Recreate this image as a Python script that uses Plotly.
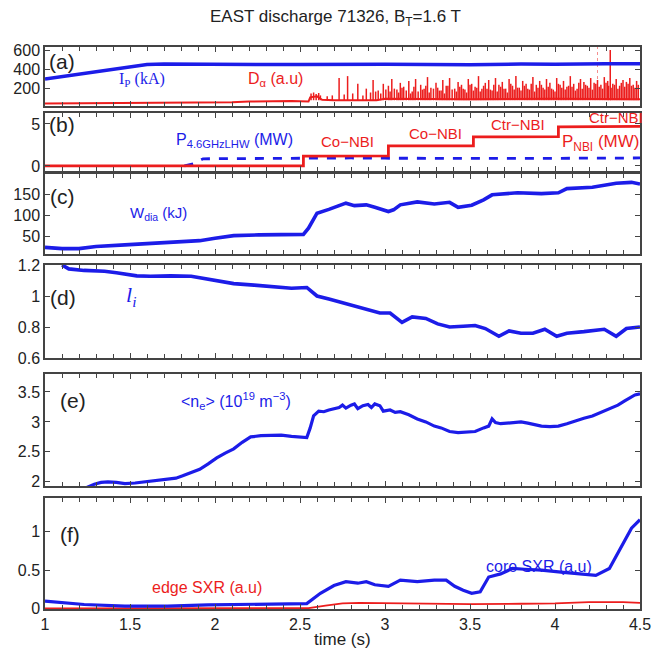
import plotly.graph_objects as go

# ---------------- data ----------------
IP_T = [1.0, 1.2, 1.4, 1.6, 1.7, 2.0, 2.5, 3.0, 3.5, 3.8, 4.0, 4.3, 4.5]
IP_V = [300, 350, 405, 450, 455, 452, 450, 452, 448, 455, 452, 458, 458]

DA_BASE_T = [1.0, 1.3, 1.6, 1.9, 2.1, 2.2, 2.3, 2.45, 2.55, 2.56, 2.6, 2.63, 2.7, 2.8, 2.95, 3.0, 3.5, 4.0, 4.5]
DA_BASE_V = [45, 48, 52, 54, 58, 66, 70, 72, 66, 110, 120, 85, 80, 78, 80, 95, 90, 95, 90]
DA_SPIKE_T = [2.565, 2.58, 2.595, 2.61, 2.62, 2.73, 2.78, 2.84, 2.89, 2.93,
              2.96, 2.99, 3.02, 3.04, 3.07, 3.09, 3.11, 3.14, 3.16, 3.18,
              3.21, 3.23, 3.25, 3.27, 3.30, 3.32, 3.34, 3.36, 3.38, 3.41,
              3.43, 3.45, 3.47, 3.49, 3.51, 3.53, 3.55, 3.57, 3.59, 3.61,
              3.63, 3.65, 3.67, 3.69, 3.71, 3.73, 3.75, 3.77, 3.79, 3.81,
              3.83, 3.85, 3.87, 3.89, 3.91, 3.93, 3.95, 3.97, 3.99, 4.01,
              4.03, 4.05, 4.07, 4.09, 4.11, 4.13, 4.15, 4.17, 4.19, 4.21,
              4.23, 4.25, 4.27, 4.29, 4.31, 4.325, 4.34, 4.36, 4.38, 4.40,
              4.42, 4.44, 4.46, 4.48]
DA_SPIKE_V = [150, 160, 145, 155, 130, 310, 330, 250, 200, 290,
              180, 250, 230, 300, 190, 260, 220, 280, 170, 300,
              240, 200, 320, 210, 260, 180, 290, 230, 310, 200,
              270, 240, 190, 300, 250, 220, 330, 200, 260, 290,
              180, 310, 240, 270, 200, 300, 230, 330, 210, 280,
              250, 190, 320, 240, 280, 210, 300, 260, 190, 310,
              240, 280, 220, 330, 250, 200, 300, 270, 230, 310,
              260, 290, 240, 320, 280, 600, 250, 300, 230, 290,
              270, 310, 240, 280]
DA_SMALL_T = [2.66, 2.69, 2.76, 2.81, 2.87, 2.915, 2.945, 2.975, 3.005, 3.03,
              3.055, 3.08, 3.10, 3.125, 3.15, 3.17, 3.195, 3.22, 3.24, 3.26,
              3.285, 3.31, 3.33, 3.35, 3.37, 3.395, 3.42, 3.44, 3.46, 3.48,
              3.50, 3.52, 3.54, 3.56, 3.58, 3.60, 3.62, 3.64, 3.66, 3.68,
              3.70, 3.72, 3.74, 3.76, 3.78, 3.80, 3.82, 3.84, 3.86, 3.88,
              3.90, 3.92, 3.94, 3.96, 3.98, 4.00, 4.02, 4.04, 4.06, 4.08,
              4.10, 4.12, 4.14, 4.16, 4.18, 4.20, 4.22, 4.24, 4.26, 4.28,
              4.30, 4.315, 4.33, 4.35, 4.37, 4.39, 4.41, 4.43, 4.45, 4.47,
              4.49]
DA_SMALL_V = [120, 130, 140, 150, 130, 160, 170, 150, 190, 170,
              200, 160, 210, 180, 150, 220, 170, 190, 230, 160,
              200, 210, 180, 150, 230, 190, 170, 220, 200, 160,
              240, 180, 210, 170, 230, 200, 190, 240, 170, 220,
              200, 160, 250, 190, 210, 180, 230, 200, 250, 170,
              210, 240, 190, 220, 200, 170, 250, 210, 190, 230,
              220, 180, 260, 200, 240, 210, 190, 250, 220, 200,
              260, 230, 210, 240, 200, 260, 220, 250, 230, 210,
              240]
DA_FLOOR = 80
DA_DASH_T = [4.25, 4.25]
DA_DASH_V = [300, 640]

NBI_T = [1.0, 2.52, 2.52, 3.02, 3.02, 3.52, 3.52, 4.02, 4.02, 4.5]
NBI_V = [0.0, 0.0, 1.18, 1.2, 2.38, 2.4, 3.45, 3.5, 4.65, 4.7]
LHW_T = [1.82, 1.88, 1.93, 2.2, 2.5, 2.8, 3.0, 3.3, 3.6, 3.9, 4.2, 4.5]
LHW_V = [0.0, 0.3, 0.85, 0.9, 0.92, 0.95, 0.92, 0.88, 0.9, 0.9, 0.92, 0.95]

W_T = [1.0, 1.1, 1.2, 1.3, 1.47, 1.67, 1.84, 1.91, 2.0, 2.11, 2.26, 2.52, 2.55, 2.6,
       2.67, 2.77, 2.82, 2.89, 2.94, 3.02, 3.05, 3.09, 3.19, 3.29, 3.38, 3.43, 3.51,
       3.58, 3.63, 3.78, 3.92, 4.02, 4.07, 4.22, 4.36, 4.45, 4.5]
W_V = [24, 21, 21, 26, 30, 35, 38, 40, 46, 52, 54, 55, 70, 106,
       115, 130, 124, 126, 120, 110, 114, 126, 133, 128, 132, 120, 125,
       138, 150, 155, 153, 155, 165, 168, 178, 180, 176]

LI_T = [1.1, 1.14, 1.23, 1.35, 1.42, 1.54, 1.62, 1.74, 1.86, 1.96, 2.11, 2.23, 2.35,
        2.45, 2.54, 2.6, 2.67, 2.77, 2.89, 2.97, 3.03, 3.1, 3.16, 3.24, 3.31, 3.38,
        3.46, 3.53, 3.59, 3.67, 3.73, 3.8, 3.87, 3.94, 4.01, 4.07, 4.17, 4.29, 4.36,
        4.42, 4.5]
LI_V = [1.2, 1.175, 1.165, 1.16, 1.15, 1.13, 1.127, 1.13, 1.127, 1.11, 1.08, 1.07, 1.06,
        1.05, 1.055, 1.0, 0.98, 0.95, 0.92, 0.89, 0.89, 0.83, 0.865, 0.855, 0.82, 0.80,
        0.805, 0.81, 0.79, 0.74, 0.775, 0.76, 0.76, 0.785, 0.74, 0.76, 0.77, 0.785, 0.74,
        0.79, 0.80]

NE_T = [1.0, 1.2, 1.29, 1.33, 1.37, 1.42, 1.47, 1.53, 1.59, 1.66, 1.72, 1.77, 1.81, 1.86,
        1.91, 1.96, 2.01, 2.06, 2.11, 2.16, 2.21, 2.27, 2.33, 2.39, 2.45, 2.5, 2.54, 2.56,
        2.58, 2.61, 2.64, 2.67, 2.7, 2.73, 2.75, 2.77, 2.8, 2.82, 2.84, 2.87, 2.9, 2.92,
        2.94, 2.97, 2.99, 3.03, 3.06, 3.09, 3.14, 3.19, 3.24, 3.29, 3.33, 3.38, 3.43,
        3.48, 3.53, 3.58, 3.61, 3.63, 3.65, 3.68, 3.72, 3.76, 3.8, 3.84, 3.88, 3.92,
        3.97, 4.02, 4.07, 4.12, 4.17, 4.22, 4.27, 4.32, 4.37, 4.41, 4.44, 4.47, 4.5]
NE_V = [1.6, 1.85, 1.96, 1.99, 2.0, 1.99, 1.97, 1.98, 2.0, 2.01, 2.03, 2.06, 2.1, 2.15,
        2.21, 2.3, 2.4, 2.48, 2.55, 2.66, 2.75, 2.77, 2.77, 2.78, 2.76, 2.75, 2.74, 2.9,
        3.1, 3.18, 3.17, 3.2, 3.22, 3.24, 3.28, 3.23, 3.28, 3.3, 3.22, 3.27, 3.29, 3.24,
        3.3, 3.27, 3.18, 3.2, 3.16, 3.17, 3.12, 3.05, 3.0, 2.93, 2.9, 2.84, 2.82,
        2.83, 2.84, 2.9, 2.93, 3.05, 2.99, 2.97, 2.98, 2.99, 3.0, 2.98, 2.96, 2.93,
        2.92, 2.93, 2.97, 3.02, 3.06, 3.1, 3.16, 3.22, 3.28, 3.35, 3.4, 3.45, 3.47]

CORE_T = [1.0, 1.1, 1.23, 1.47, 1.72, 1.96, 2.21, 2.45, 2.54, 2.62, 2.7, 2.77, 2.84,
          2.89, 2.94, 3.02, 3.09, 3.19, 3.29, 3.36, 3.41, 3.46, 3.51, 3.56, 3.61, 3.68,
          3.75, 3.82, 3.92, 4.05, 4.17, 4.24, 4.32, 4.39, 4.45, 4.5]
CORE_V = [0.1, 0.076, 0.055, 0.034, 0.034, 0.05, 0.055, 0.055, 0.067, 0.2, 0.3, 0.35, 0.33,
          0.35, 0.31, 0.29, 0.37, 0.35, 0.37, 0.37, 0.29, 0.24, 0.2, 0.22, 0.41, 0.45,
          0.52, 0.51, 0.5, 0.47, 0.45, 0.43, 0.52, 0.79, 1.04, 1.15]

EDGE_T = [1.0, 2.0, 2.55, 2.65, 2.75, 2.85, 3.0, 3.2, 3.5, 3.8, 4.0, 4.2, 4.4, 4.5]
EDGE_V = [0.005, 0.005, 0.008, 0.04, 0.07, 0.075, 0.07, 0.065, 0.06, 0.065, 0.07, 0.085, 0.085, 0.075]

X_TICKS = [1, 1.5, 2, 2.5, 3, 3.5, 4, 4.5]
Y_TICKS = [[200, 400, 600], [0, 5], [50, 100, 150], [0.6, 0.8, 1, 1.2],
           [2, 2.5, 3, 3.5], [0, 0.5, 1]]
Y_RANGES = [[20, 632], [-0.6, 6.3], [8, 200], [0.6, 1.2], [1.93, 3.8], [-0.003, 1.43]]

# ---------------- layout helpers ----------------
W, H = 654, 655
ML, MR = 45, 14
PANELS = [(47, 106), (113, 171), (174, 254), (265, 358), (374, 486), (498, 609)]
BLUE = "#1c1ce8"
RED = "#ec1d1d"
FRAME = "#444444"
FONT = "Liberation Sans"


def pxx(x):
    return (x - ML) / (W - ML - MR)


def pyy(y):
    return 1 - y / H


fig = go.Figure()


def add(row, x, y, color, width, dash="solid"):
    fig.add_trace(go.Scatter(
        x=x, y=y, mode="lines",
        line=dict(color=color, width=width, dash=dash),
        xaxis="x" if row == 1 else f"x{row}",
        yaxis="y" if row == 1 else f"y{row}",
        showlegend=False, hoverinfo="skip"))


# (a)
spx, spy = [], []
for t, v in list(zip(DA_SPIKE_T, DA_SPIKE_V)) + list(zip(DA_SMALL_T, DA_SMALL_V)):
    spx += [t, t, None]
    spy += [DA_FLOOR, v, None]
add(1, spx, spy, RED, 1.5)
add(1, DA_BASE_T, DA_BASE_V, RED, 2)
add(1, DA_DASH_T, DA_DASH_V, "rgba(236,29,29,0.5)", 1, "dot")
add(1, IP_T, IP_V, BLUE, 3.5)
# (b)
add(2, LHW_T, LHW_V, BLUE, 2.8, "dash")
add(2, NBI_T, NBI_V, RED, 2.8)
# (c)
add(3, W_T, W_V, BLUE, 3.6)
# (d)
add(4, LI_T, LI_V, BLUE, 3.6)
# (e)
add(5, NE_T, NE_V, BLUE, 3.2)
# (f)
add(6, EDGE_T, EDGE_V, RED, 1.8)
add(6, CORE_T, CORE_V, BLUE, 3.2)

layout = dict(
    width=W, height=H,
    margin=dict(l=ML, r=MR, t=0, b=0, pad=0),
    paper_bgcolor="white", plot_bgcolor="white",
    font=dict(family=FONT, color="#222", size=14),
)
for i, (top, bot) in enumerate(PANELS, 1):
    xs = "" if i == 1 else str(i)
    layout[f"xaxis{xs}"] = dict(
        domain=[0, 1], range=[1, 4.5], anchor=f"y{xs}",
        matches=None if i == 1 else "x",
        showline=True, mirror="allticks", linecolor=FRAME, linewidth=1.5,
        ticks="inside", ticklen=5, tickwidth=1, tickcolor=FRAME,
        tickvals=X_TICKS, ticktext=[str(v) for v in X_TICKS],
        minor=dict(dtick=0.1, tick0=1, ticks="inside", ticklen=4, tickcolor=FRAME),
        showgrid=False, zeroline=False, showticklabels=(i == 6),
        tickfont=dict(size=16, family=FONT, color="#222"), automargin=False)
    layout[f"yaxis{xs}"] = dict(
        domain=[pyy(bot), pyy(top)], range=Y_RANGES[i - 1], anchor=f"x{xs}",
        showline=True, mirror="allticks", linecolor=FRAME, linewidth=1.5,
        ticks="inside", ticklen=5, tickwidth=1, tickcolor=FRAME,
        tickvals=Y_TICKS[i - 1], ticktext=[str(v) for v in Y_TICKS[i - 1]],
        showgrid=False, zeroline=False,
        tickfont=dict(size=16, family=FONT, color="#222"), automargin=False)

fig.update_layout(**layout)

annos = [
    ("EAST discharge 71326, B<sub>T</sub>=1.6 T", 335, 18, 17, "#222", FONT),
    ("(a)", 62, 62, 21, "#222", FONT),
    ("I<sub>P</sub> (kA)", 142, 79, 16, BLUE, "Liberation Serif"),
    ("D<sub>α</sub> (a.u)", 275, 80, 16, RED, FONT),
    ("(b)", 62, 124, 21, "#222", FONT),
    ("P<sub>4.6GHzLHW</sub> (MW)", 234, 140, 16, BLUE, FONT),
    ("Co−NBI", 347, 141, 15, RED, FONT),
    ("Co−NBI", 435, 133, 15, RED, FONT),
    ("Ctr−NBI", 518, 124, 15, RED, FONT),
    ("Ctr−NBI", 616, 118, 15, RED, FONT),
    ("P<sub>NBI</sub> (MW)", 600, 143, 17, RED, FONT),
    ("(c)", 62, 196, 21, "#222", FONT),
    ("W<sub>dia</sub> (kJ)", 158, 214, 15, BLUE, FONT),
    ("(d)", 63, 297, 21, "#222", FONT),
    ("<i>l<sub>i</sub></i>", 131, 296, 22, BLUE, "Liberation Serif"),
    ("(e)", 73, 400, 21, "#222", FONT),
    ("&lt;n<sub>e</sub>&gt; (10<sup>19</sup> m<sup>−3</sup>)", 236, 401, 16, BLUE, FONT),
    ("(f)", 70, 534, 21, "#222", FONT),
    ("core SXR (a.u)", 539, 566, 16, BLUE, FONT),
    ("edge SXR (a.u)", 207, 587, 16, RED, FONT),
    ("time (s)", 342, 639, 17, "#222", FONT),
]
for text, x, y, size, color, fam in annos:
    fig.add_annotation(text=text, x=pxx(x), y=pyy(y), xref="paper", yref="paper",
                       xanchor="center", yanchor="middle", showarrow=False,
                       font=dict(size=size, color=color, family=fam))

fig.write_html("out.html")
